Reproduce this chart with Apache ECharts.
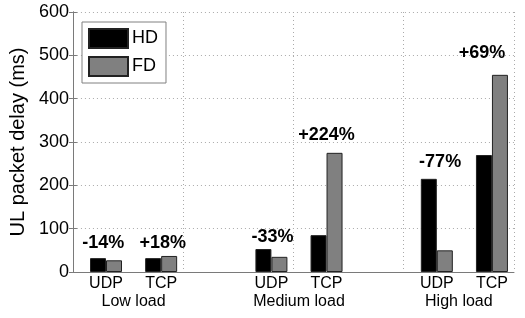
<!DOCTYPE html>
<html>
<head>
<meta charset="utf-8">
<script src="https://cdn.jsdelivr.net/npm/echarts@6/dist/echarts.min.js"></script>
<style>
  html, body { margin: 0; padding: 0; background: #fff; }
  #chart { width: 525px; height: 318px; }
</style>
</head>
<body>
<div id="chart"></div>
<script>
// bar positions on the x axis (UDP / TCP inside each load group)
var xPos = [0.6, 1.6, 3.6, 4.6, 6.6, 7.6];
var protoNames = ['UDP', 'TCP', 'UDP', 'TCP', 'UDP', 'TCP'];
var groupPos = [1.1, 4.1, 7.0];
var groupNames = ['Low load', 'Medium load', 'High load'];

// UL packet delay (ms)
var hdValues = [32, 32, 53, 85, 215, 270];
var fdValues = [27, 37, 35, 275, 50, 455];

// percentage change labels
var annX = [0.55, 1.63, 3.62, 4.6, 6.66, 7.42];
var annY = [67, 67, 81, 316, 254, 505];
var annText = ['-14%', '+18%', '-33%', '+224%', '-77%', '+69%'];

var yTicks = [0, 100, 200, 300, 400, 500, 600];

var font = 'Liberation Sans, Arial, sans-serif';
var axisGray = '#7a7a7a';

let myChart = echarts.init(document.getElementById('chart'));

function pairs(xs, ys) {
  return xs.map(function (x, i) { return [x, ys[i]]; });
}

myChart.setOption({
  backgroundColor: '#fff',
  animation: false,
  textStyle: { fontFamily: font },
  grid: { left: 72, right: 11, top: 12, bottom: 46 },
  legend: {
    left: 82,
    top: 22,
    orient: 'vertical',
    icon: 'rect',
    itemWidth: 39,
    itemHeight: 19,
    itemGap: 7,
    padding: [6, 8, 6, 6],
    borderColor: '#808080',
    borderWidth: 1,
    backgroundColor: '#fff',
    textStyle: { fontSize: 18, color: '#000', fontFamily: font, padding: [0, 0, 0, -1] },
    data: ['HD', 'FD']
  },
  xAxis: [{
    type: 'value',
    min: 0,
    max: 8,
    interval: 2,
    axisLine: { show: true, lineStyle: { color: axisGray, width: 1 } },
    axisTick: { show: false },
    splitLine: { show: true, lineStyle: { color: '#aaa', type: [1, 3], width: 1 } },
    axisLabel: {
      customValues: xPos,
      color: '#000',
      fontSize: 16,
      margin: 4,
      formatter: function (v) {
        let i = xPos.indexOf(v);
        return i >= 0 ? protoNames[i] : '';
      }
    }
  }, {
    type: 'value',
    position: 'bottom',
    offset: 18,
    min: 0,
    max: 8,
    axisLine: { show: false },
    axisTick: { show: false },
    splitLine: { show: false },
    axisLabel: {
      customValues: groupPos,
      color: '#000',
      fontSize: 16,
      margin: 4,
      formatter: function (v) {
        let i = groupPos.indexOf(v);
        return i >= 0 ? groupNames[i] : '';
      }
    }
  }],
  yAxis: [{
    type: 'value',
    min: 0,
    max: 600,
    interval: 100,
    name: 'UL packet delay (ms)',
    nameLocation: 'middle',
    nameGap: 44,
    nameTextStyle: { fontSize: 20, color: '#000' },
    axisLine: { show: true, lineStyle: { color: axisGray, width: 1 } },
    axisTick: { show: true, inside: true, length: 4, lineStyle: { color: axisGray } },
    splitLine: { show: true, lineStyle: { color: '#aaa', type: [1, 3], width: 1 } },
    axisLabel: {
      color: '#000',
      fontSize: 18,
      margin: 4,
      formatter: function (v) { return yTicks.indexOf(v) >= 0 ? String(v) : ''; }
    }
  }, {
    type: 'value',
    position: 'right',
    min: 0,
    max: 600,
    interval: 100,
    axisLine: { show: true, lineStyle: { color: axisGray, width: 1 } },
    axisTick: { show: true, inside: true, length: 4, lineStyle: { color: axisGray } },
    splitLine: { show: false },
    axisLabel: { show: false }
  }],
  series: [{
    name: 'HD',
    type: 'bar',
    xAxisIndex: 0,
    yAxisIndex: 0,
    barWidth: 16,
    barGap: '0%',
    itemStyle: { color: '#000', borderColor: '#222', borderWidth: 1 },
    data: pairs(xPos, hdValues)
  }, {
    name: 'FD',
    type: 'bar',
    xAxisIndex: 0,
    yAxisIndex: 0,
    barWidth: 16,
    barGap: '0%',
    itemStyle: { color: '#808080', borderColor: '#222', borderWidth: 1 },
    data: pairs(xPos, fdValues)
  }, {
    name: 'change',
    type: 'scatter',
    xAxisIndex: 0,
    yAxisIndex: 0,
    symbolSize: 0,
    itemStyle: { color: '#000', opacity: 1 },
    label: {
      show: true,
      position: 'inside',
      fontSize: 18,
      fontWeight: 'bold',
      color: '#000',
      textBorderWidth: 0,
      formatter: function (p) { return annText[p.dataIndex]; }
    },
    data: pairs(annX, annY)
  }]
});
</script>
</body>
</html>
